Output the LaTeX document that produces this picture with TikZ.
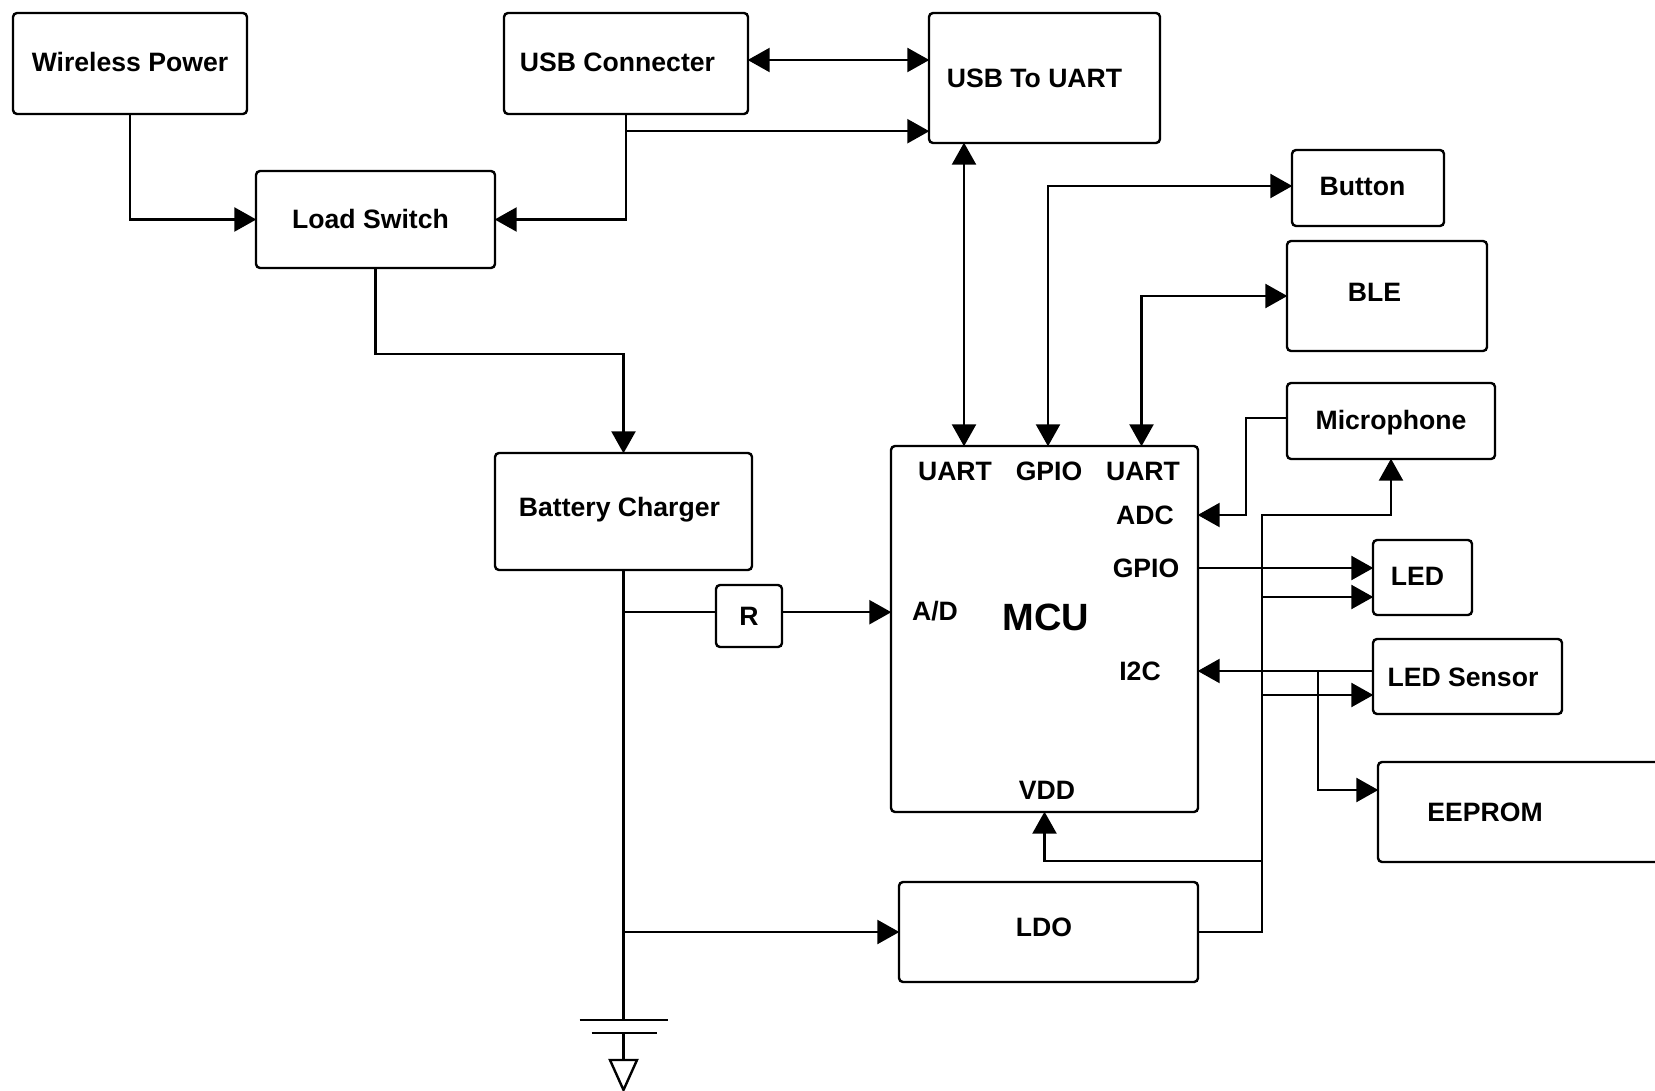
\documentclass[tikz,border=0pt]{standalone}
\usepackage{fontspec}
\setmainfont{Liberation Sans}
\usetikzlibrary{arrows.meta,positioning,calc}

\begin{document}
\begin{tikzpicture}[%
    x=1pt, y=1pt,
    on grid,                    % Distances between boxes run centre to centre
    line width=2.4pt,
    ]

\tikzset{
    base/.style={draw, rounded corners=4pt, line width=2.4pt, align=center},
    proc/.style 2 args={base, minimum width=#1pt, minimum height=#2pt},
    tag/.style={inner sep=0pt, text height=18pt, text depth=0pt, font={\fontsize{26.6}{30}\selectfont\bfseries}},
    txt/.style n args={3}{label={[tag, xshift=#1pt, yshift=#2pt]center:#3}},
    % Arrows
    fforw/.style={-{Triangle[length=22pt, width=24pt]}, shorten >=-1.5pt},
    fboth/.style={{Triangle[length=22pt, width=24pt]}-{Triangle[length=22pt, width=24pt]}, shorten >=-1.5pt, shorten <=-1.5pt},
}

\useasboundingbox (0,0) rectangle (1655,-1091);

%% Supply side
\node [proc={234}{101}, txt={0}{1}{Wireless Power}] (wpow) at (130,-63.5) {};
\node [proc={244}{101}, txt={-8.5}{1}{USB Connecter}, right=496pt of wpow] (usbc) {};
\node [proc={239}{97}, txt={-5}{0}{Load Switch}, below right=156pt and 245.5pt of wpow] (lsw) {};
\node [proc={231}{130}, txt={-10}{-1}{USB To UART}, below right=14.5pt and 418.5pt of usbc] (u2u) {};
\node [proc={257}{117}, txt={-4}{4}{Battery Charger}, below right=292pt and 248pt of lsw] (bat) {};
\node [proc={66}{62}, txt={0}{0}{R}, below right=104.5pt and 125.5pt of bat] (res) {};

%% Controller and its pins
\node [proc={307}{366}, below right=117.5pt and 421pt of bat,
    label={[tag, text height=26pt, font={\fontsize{38}{42}\selectfont\bfseries}, xshift=1.5pt, yshift=12pt]center:MCU}] (mcu) {};
\node [tag, above left=158pt and 89.5pt of mcu] (mcuuarta) {UART};
\node [tag, above right=158pt and 4.5pt of mcu] (mcugpioa) {GPIO};
\node [tag, above right=158pt and 98.5pt of mcu] (mcuuartb) {UART};
\node [tag, above right=114pt and 100.5pt of mcu] (mcuadc) {ADC};
\node [tag, above right=61pt and 101.5pt of mcu] (mcugpiob) {GPIO};
\node [tag, above left=18pt and 109.5pt of mcu] (mcuad) {A/D};
\node [tag, below right=42pt and 95.5pt of mcu] (mcui2c) {I2C};
\node [tag, below right=161pt and 2.5pt of mcu] (mcuvdd) {VDD};
\node [proc={299}{100}, txt={-4.5}{5}{LDO}, below right=303pt and 4pt of mcu] (ldo) {};

%% Peripherals
\node [proc={152}{76}, txt={-5.5}{1}{Button}, below right=110pt and 323.5pt of u2u] (btn) {};
\node [proc={200}{110}, txt={-12.5}{3.5}{BLE}, below right=108pt and 19pt of btn] (ble) {};
\node [proc={208}{76}, txt={0}{1}{Microphone}, below right=125pt and 4pt of ble] (mic) {};
\node [proc={99}{75}, txt={-5}{1}{LED}, above right=51.5pt and 378pt of mcu] (led) {};
\node [proc={189}{75}, txt={-4.5}{-1}{LED Sensor}, below right=99pt and 45pt of led] (lsen) {};
\node [proc={287}{100}, txt={-36.5}{-0.5}{EEPROM}, below right=135.5pt and 54pt of lsen] (eep) {};

%% Ground symbol
\coordinate [below=508.5pt of bat] (gnda);
\coordinate [below=13pt of gnda] (gndb);
\coordinate [below=27pt of gndb] (gndc);
\coordinate [below=30pt of gndc] (gndd);

%% Tap points
\coordinate (usbtap) at ([yshift=-16pt]usbc.south);
\coordinate (usbdata) at ([yshift=3.5pt]usbc.east);
\coordinate (rtap) at ([yshift=-41pt]bat.south);
\coordinate [right=62.5pt of ldo.east] (rail);
\coordinate (vddtap) at ([yshift=-48pt]mcu.south);
\coordinate (ledtap) at ([yshift=-19.5pt]led.west);
\coordinate (lsentap) at ([yshift=-18.5pt]lsen.west);
\coordinate (i2ctap) at ([xshift=-54pt]lsen.west |- mcui2c);
\coordinate (eeptap) at ([yshift=22pt]eep.west);

\draw[fforw] (wpow.south) |- (lsw.west);
\draw[fforw] (usbc.south) |- (lsw.east);
\draw[fforw] (usbtap) -- (usbtap -| u2u.west);
\draw[fboth] (usbdata) -- (usbdata -| u2u.west);
\draw[fboth] ([xshift=-80.5pt]u2u.south) -- ([xshift=-80.5pt]mcu.north);
\draw[fboth] ([xshift=3.5pt]mcu.north) |- ([yshift=2pt]btn.west);
\draw[fboth] ([xshift=97pt]mcu.north) |- (ble.west);
\draw[fforw] (lsw.south) --++(0,-85) -| (bat.north);

\draw (bat.south) -- (gnda);
\draw ([xshift=-44pt]gnda) -- ([xshift=44pt]gnda);
\draw ([xshift=-32pt]gndb) -- ([xshift=33pt]gndb);
\draw (gndb) -- (gndc);
\draw ([xshift=-13.5pt]gndc) -- ([xshift=13.5pt]gndc) -- (gndd) -- cycle;

\draw (rtap) -- (rtap -| res.west);
\draw[fforw] (rtap -| res.east) -- (rtap -| mcu.west);
\draw[fforw] (bat.south |- ldo.west) -- (ldo.west);

\draw[fforw] (ldo.east) -| (rail |- mcuadc) -| (mic.south);
\draw[fforw] (vddtap -| rail) -- (vddtap) -- (mcu.south);
\draw[fforw] ([yshift=3pt]mic.west) --++(-40,0) |- (mcu.east |- mcuadc);
\draw[fforw] (mcu.east |- mcugpiob) -- (led.west |- mcugpiob);
\draw[fforw] (ledtap -| rail) -- (ledtap);
\draw[fforw] (lsen.west |- mcui2c) -- (mcu.east |- mcui2c);
\draw[fforw] (lsentap -| rail) -- (lsentap);
\draw[fforw] (i2ctap) |- (eeptap);
\end{tikzpicture}
\end{document}
